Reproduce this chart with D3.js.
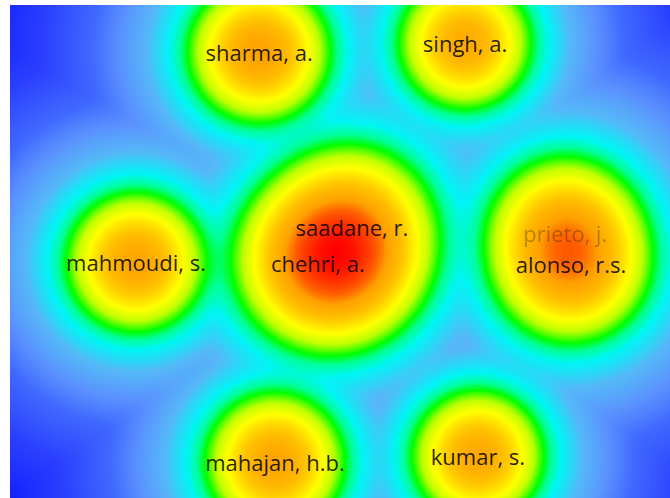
<!DOCTYPE html>
<html>
<head>
<meta charset="utf-8">
<script src="https://cdn.jsdelivr.net/npm/d3@7"></script>
<style>
  body { margin: 0; background: #fff; }
  svg { display: block; }
  text { font-family: "Open Sans", "Noto Sans", sans-serif; }
</style>
</head>
<body>
<div id="app"></div>
<script>
const WIDTH = 670;
const HEIGHT = 498;
const MAP_LEFT = 10;
const MAP_TOP = 5;

// items of the author map (map coordinates, y upwards); '' = item whose label is hidden
const labels = ['sharma, a.', 'singh, a.', 'saadane, r.', 'chehri, a.', '', 'mahmoudi, s.', 'prieto, j.', 'alonso, r.s.', 'mahajan, h.b.', 'kumar, s.'];
const xs = [-0.245, 0.379, 0.036, -0.067, -0.006, -0.618, 0.682, 0.700, -0.197, 0.418];
const ys = [0.605, 0.632, 0.074, -0.035, -0.014, -0.032, 0.056, -0.038, -0.638, -0.620];
const weights = [0.95, 0.8, 0.6, 0.6, 1.8, 0.9, 0.75, 0.95, 0.9, 0.85];
// kernel width of every item (map units)
const spreads = [0.087, 0.083, 0.105, 0.105, 0.105, 0.086, 0.096, 0.096, 0.086, 0.082];
const labelAlpha = [0.85, 0.85, 0.85, 0.85, 0, 0.85, 0.28, 0.85, 0.85, 0.85];

// colour ramp over log density
const densityStops = [-60, -45, -28, -17, -11.9, -7.6, -4.9, -3.85, -3.125, -2.26, -1.53, -0.63, 0, 0.35, 0.75, 1.0];
const densityColors = ['#0000ff', '#1020ff', '#2a40ff', '#4068ff', '#5a90ff', '#55b8f8', '#00f5f5', '#00ff99', '#00ff00', '#c0ff00', '#ffff00', '#ffc000', '#ffa000', '#ff6000', '#ff2800', '#ff0000'];

const xScale = d3.scaleLinear().domain([-1, 1]).range([MAP_LEFT, MAP_LEFT + 660]);
const yScale = d3.scaleLinear().domain([-0.747, 0.747]).range([HEIGHT, MAP_TOP]);
const color = d3.scaleLinear().domain(densityStops).range(densityColors).clamp(true);

const items = labels.map((label, i) => ({
  label, x: xs[i], y: ys[i], w: weights[i], s: spreads[i], alpha: labelAlpha[i]
}));

const svg = d3.select('#app')
  .append('svg')
  .attr('width', WIDTH)
  .attr('height', HEIGHT);

svg.append('rect')
  .attr('width', WIDTH)
  .attr('height', HEIGHT)
  .attr('fill', '#fff');

drawDensity();
drawLabels();

function drawDensity() {
  const w = WIDTH - MAP_LEFT;
  const h = HEIGHT - MAP_TOP;
  const canvas = document.createElement('canvas');
  canvas.width = w;
  canvas.height = h;
  const ctx = canvas.getContext('2d');
  const img = ctx.createImageData(w, h);

  // lookup table for the colour ramp
  const lo = densityStops[0], hi = densityStops[densityStops.length - 1];
  const N = 2048;
  const lut = d3.range(N).map(k => d3.rgb(color(lo + (hi - lo) * k / (N - 1))));

  const pts = items.map(d => {
    const s = xScale(d.s) - xScale(0);
    return [xScale(d.x), yScale(d.y), d.w, 2 * s * s];
  });

  for (let j = 0; j < h; j++) {
    const py = MAP_TOP + j + 0.5;
    for (let i = 0; i < w; i++) {
      const px = MAP_LEFT + i + 0.5;
      let dens = 1e-300;
      for (const [cx, cy, wt, t] of pts) {
        const dx = px - cx, dy = py - cy;
        dens += wt * Math.exp(-(dx * dx + dy * dy) / t);
      }
      const L = Math.log(dens);
      const idx = Math.max(0, Math.min(N - 1, Math.round((L - lo) / (hi - lo) * (N - 1))));
      const c = lut[idx];
      const k = (j * w + i) * 4;
      img.data[k] = c.r;
      img.data[k + 1] = c.g;
      img.data[k + 2] = c.b;
      img.data[k + 3] = 255;
    }
  }
  ctx.putImageData(img, 0, 0);

  svg.append('image')
    .attr('x', MAP_LEFT)
    .attr('y', MAP_TOP)
    .attr('width', w)
    .attr('height', h)
    .attr('href', canvas.toDataURL());
}

function drawLabels() {
  svg.append('g')
    .attr('id', 'labels')
    .selectAll('text')
    .data(items.filter(d => d.label))
    .join('text')
    .attr('x', d => xScale(d.x))
    .attr('y', d => yScale(d.y))
    .attr('text-anchor', 'middle')
    .attr('dominant-baseline', 'central')
    .attr('font-size', 22)
    .attr('fill', '#000')
    .attr('fill-opacity', d => d.alpha)
    .text(d => d.label);
}
</script>
</body>
</html>
